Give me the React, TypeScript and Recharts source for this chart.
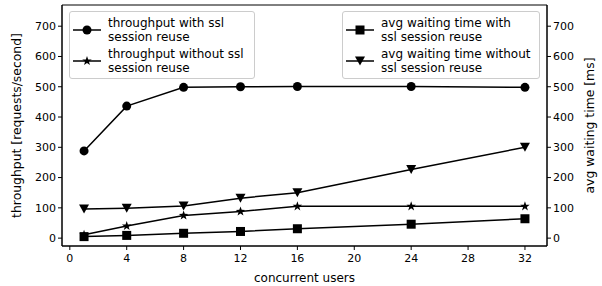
import React from "react";
import {
  LineChart,
  Line,
  XAxis,
  YAxis,
  ReferenceArea,
} from "recharts";

const users = [1, 4, 8, 12, 16, 24, 32];
const throughputReuse = [288, 436, 498, 500, 501, 501, 498];
const throughputNoReuse = [11, 40, 75, 88, 105, 105, 105];
const waitReuse = [5, 9, 16, 22, 31, 46, 64];
const waitNoReuse = [96, 99, 106, 132, 150, 227, 300];

const xTicks = [0, 4, 8, 12, 16, 20, 24, 28, 32];
const yTicks = [0, 100, 200, 300, 400, 500, 600, 700];

const data = users.map((u, i) => ({
  users: u,
  tReuse: throughputReuse[i],
  tNoReuse: throughputNoReuse[i],
  wReuse: waitReuse[i],
  wNoReuse: waitNoReuse[i],
}));

const FONT = "'DejaVu Sans', sans-serif";
const X_DOMAIN: [number, number] = [-0.55, 33.55];
const Y_DOMAIN: [number, number] = [-26, 770];

const starPoints = (cx: number, cy: number, r: number) => {
  const pts: string[] = [];
  for (let k = 0; k < 10; k++) {
    const rr = k % 2 === 0 ? r : r * 0.4;
    const a = -Math.PI / 2 + (k * Math.PI) / 5;
    pts.push(`${cx + rr * Math.cos(a)},${cy + rr * Math.sin(a)}`);
  }
  return pts.join(" ");
};

const Marker = ({ kind, cx, cy }: { kind: string; cx: number; cy: number }) => {
  if (kind === "circle") return <circle cx={cx} cy={cy} r={4.5} fill="#000" />;
  if (kind === "square")
    return <rect x={cx - 4.5} y={cy - 4.5} width={9} height={9} fill="#000" />;
  if (kind === "tri")
    return (
      <polygon
        points={`${cx - 5},${cy - 4.5} ${cx + 5},${cy - 4.5} ${cx},${cy + 4.5}`}
        fill="#000"
      />
    );
  return <polygon points={starPoints(cx, cy, 5)} fill="#000" />;
};

const dot = (kind: string) => (props: any) => {
  const { cx, cy, index } = props;
  if (cx == null || cy == null) return <g key={index} />;
  return <Marker key={index} kind={kind} cx={cx} cy={cy} />;
};

const LegendBox = ({
  left,
  top,
  width,
  items,
}: {
  left: number;
  top: number;
  width: number;
  items: { kind: string; lines: string[] }[];
}) => (
  <div
    style={{
      position: "absolute",
      left,
      top,
      width,
      height: 68,
      boxSizing: "border-box",
      border: "1px solid #ccc",
      borderRadius: 3,
      background: "rgba(255,255,255,0.8)",
      fontFamily: FONT,
      fontSize: 12,
      lineHeight: "14px",
      color: "#000",
      padding: "2px 0 0 0",
    }}
  >
    {items.map((it) => (
      <div key={it.kind} style={{ display: "flex", alignItems: "center", height: 31 }}>
        <svg width={38} height={14} style={{ flex: "none" }}>
          <line x1={3} y1={7} x2={31} y2={7} stroke="#000" strokeWidth={1.5} />
          <Marker kind={it.kind} cx={17} cy={7} />
        </svg>
        <div>
          {it.lines.map((l) => (
            <div key={l}>{l}</div>
          ))}
        </div>
      </div>
    ))}
  </div>
);

export default function App() {
  return (
    <div style={{ position: "absolute", left: 0, top: 0, width: 602, height: 286, background: "#fff" }}>
      <LineChart
        width={602}
        height={286}
        data={data}
        margin={{ top: 5, right: 0, bottom: 0, left: 0 }}
      >
        <XAxis
          dataKey="users"
          type="number"
          domain={X_DOMAIN}
          ticks={xTicks}
          allowDataOverflow
          height={40}
          tickSize={4}
          tickMargin={4}
          stroke="#000"
          tick={{ fontSize: 11, fontFamily: FONT, fill: "#000" }}
          label={{
            value: "concurrent users",
            position: "insideBottom",
            offset: 4,
            style: { fontSize: 12, fontFamily: FONT, fill: "#000" },
          }}
        />
        <YAxis
          yAxisId="left"
          domain={Y_DOMAIN}
          ticks={yTicks}
          allowDataOverflow
          width={62}
          tickSize={4}
          stroke="#000"
          tick={{ fontSize: 11, fontFamily: FONT, fill: "#000" }}
          label={{
            value: "throughput [requests/second]",
            angle: -90,
            position: "insideLeft",
            offset: 17,
            style: { fontSize: 12.4, fontFamily: FONT, fill: "#000", textAnchor: "middle" },
          }}
        />
        <YAxis
          yAxisId="right"
          orientation="right"
          domain={Y_DOMAIN}
          ticks={yTicks}
          allowDataOverflow
          width={55}
          tickSize={4}
          stroke="#000"
          tick={{ fontSize: 11, fontFamily: FONT, fill: "#000" }}
          label={{
            value: "avg waiting time [ms]",
            angle: -90,
            position: "insideRight",
            offset: 12,
            style: { fontSize: 12.4, fontFamily: FONT, fill: "#000", textAnchor: "middle" },
          }}
        />
        <ReferenceArea
          yAxisId="left"
          x1={X_DOMAIN[0]}
          x2={X_DOMAIN[1]}
          y1={Y_DOMAIN[0]}
          y2={Y_DOMAIN[1]}
          fill="none"
          fillOpacity={0}
          stroke="#000"
          strokeWidth={1}
          strokeOpacity={1}
        />
        <Line yAxisId="left" dataKey="tReuse" stroke="#000" strokeWidth={1.5} dot={dot("circle")} isAnimationActive={false} />
        <Line yAxisId="left" dataKey="tNoReuse" stroke="#000" strokeWidth={1.5} dot={dot("star")} isAnimationActive={false} />
        <Line yAxisId="right" dataKey="wReuse" stroke="#000" strokeWidth={1.5} dot={dot("square")} isAnimationActive={false} />
        <Line yAxisId="right" dataKey="wNoReuse" stroke="#000" strokeWidth={1.5} dot={dot("tri")} isAnimationActive={false} />
      </LineChart>
      <LegendBox
        left={69}
        top={11}
        width={186}
        items={[
          { kind: "circle", lines: ["throughput with ssl", "session reuse"] },
          { kind: "star", lines: ["throughput without ssl", "session reuse"] },
        ]}
      />
      <LegendBox
        left={342}
        top={11}
        width={198}
        items={[
          { kind: "square", lines: ["avg waiting time with", "ssl session reuse"] },
          { kind: "tri", lines: ["avg waiting time without", "ssl session reuse"] },
        ]}
      />
    </div>
  );
}
